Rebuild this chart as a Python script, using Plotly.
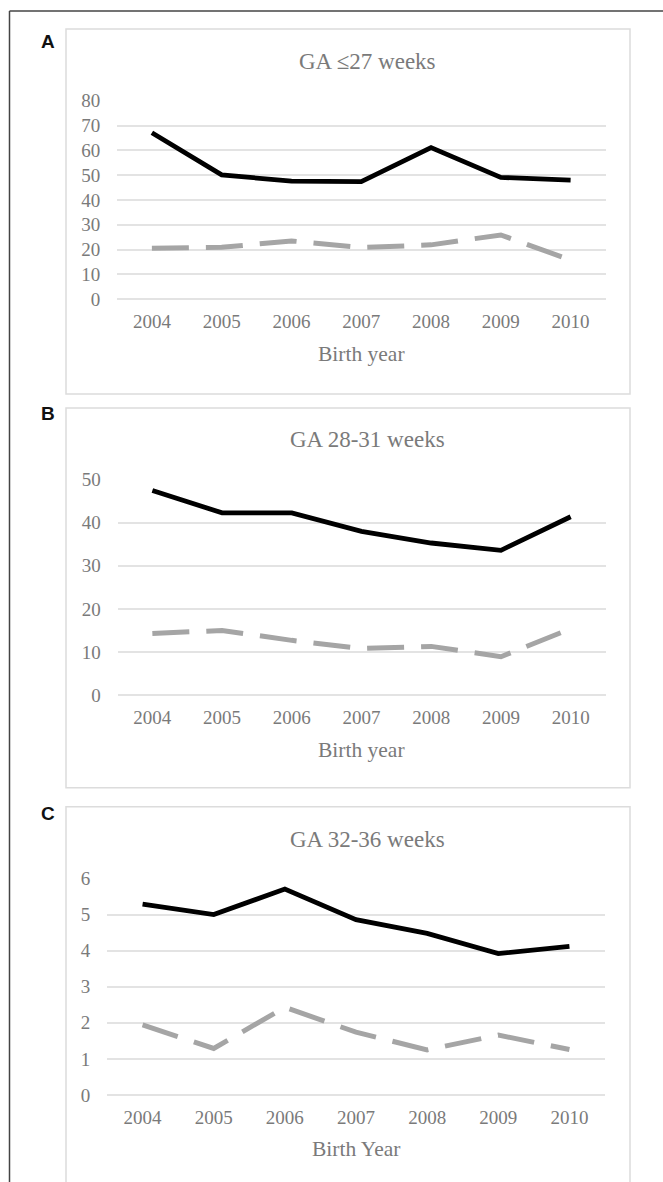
import plotly.graph_objects as go

W, H = 663, 1182

years = ["2004", "2005", "2006", "2007", "2008", "2009", "2010"]

titles = ["GA \u226427 weeks", "GA 28-31 weeks", "GA 32-36 weeks"]
xtitles = ["Birth year", "Birth year", "Birth Year"]
labels = ["A", "B", "C"]

a_solid = [67.1, 50.1, 47.6, 47.4, 61.1, 49.1, 48.0]
a_dashed = [20.5, 20.9, 23.5, 20.8, 21.9, 25.9, 15.8]
b_solid = [47.5, 42.3, 42.3, 38.0, 35.3, 33.6, 41.4]
b_dashed = [14.3, 15.0, 12.7, 10.8, 11.3, 8.9, 15.4]
c_solid = [5.29, 5.00, 5.71, 4.86, 4.48, 3.92, 4.12]
c_dashed = [1.94, 1.29, 2.43, 1.74, 1.25, 1.66, 1.26]

solid_series = [a_solid, b_solid, c_solid]
dashed_series = [a_dashed, b_dashed, c_dashed]
y_ranges = [[0, 80], [0, 50], [0, 6]]
y_dticks = [10, 10, 1]

# layout geometry in pixels (x0, x1, ytop, ybottom)
plot_px = [(117, 605.5, 99, 298), (117.5, 605.5, 479, 695), (107, 605, 879, 1096)]
box_px = [(66, 630, 27, 393), (66, 630, 407, 788), (66, 630, 807, 1200)]
title_y = [60, 439, 840]
xtitle_y = [353, 750, 1150]
label_y = [40, 413, 814]

def px(x):
    return x / W

def py(y):
    yc = (y - 8) / 0.985
    return 1 - yc / H

GREY_TXT = "#7a7a7a"
GRID = "#e3e3e3"
FONT = "Liberation Serif"

fig = go.Figure()
shapes = []
annotations = []

for i in range(3):
    ax = "" if i == 0 else str(i + 1)
    xa, ya = "x" + ax, "y" + ax
    fig.add_trace(go.Scatter(x=years, y=dashed_series[i], mode="lines",
                             line=dict(color="#a5a5a5", width=5, dash="37px,17px"),
                             xaxis=xa, yaxis=ya, showlegend=False, hoverinfo="skip"))
    fig.add_trace(go.Scatter(x=years, y=solid_series[i], mode="lines",
                             line=dict(color="#000000", width=4.8),
                             xaxis=xa, yaxis=ya, showlegend=False, hoverinfo="skip"))
    x0, x1, yt, yb = plot_px[i]
    fig.update_layout(**{
        "xaxis" + ax: dict(domain=[px(x0), px(x1)], anchor=ya, type="category",
                           range=[-0.5, 6.5], showgrid=False, zeroline=False,
                           showline=False, ticks="outside", ticklen=5,
                           tickcolor="rgba(0,0,0,0)",
                           tickfont=dict(family=FONT, size=19, color=GREY_TXT),
                           fixedrange=True),
        "yaxis" + ax: dict(domain=[py(yb), py(yt)], anchor=xa, range=y_ranges[i],
                           dtick=y_dticks[i], tick0=0, showgrid=True, gridcolor=GRID,
                           gridwidth=1.5, zeroline=True, zerolinecolor=GRID,
                           zerolinewidth=1.5, showline=False, ticks="outside",
                           ticklen=12, tickcolor="rgba(0,0,0,0)",
                           tickfont=dict(family=FONT, size=19, color=GREY_TXT),
                           fixedrange=True),
    })
    bx0, bx1, byt, byb = box_px[i]
    shapes.append(dict(type="rect", xref="paper", yref="paper",
                       x0=px(bx0), x1=px(bx1), y0=py(byb), y1=py(byt),
                       line=dict(color="#dcdcdc", width=1.5), layer="below"))
    annotations.append(dict(text=titles[i], xref="paper", yref="paper",
                            x=px(367), y=py(title_y[i]), showarrow=False,
                            xanchor="center", yanchor="middle",
                            font=dict(family=FONT, size=23, color=GREY_TXT)))
    annotations.append(dict(text=xtitles[i], xref="paper", yref="paper",
                            x=px((x0 + x1) / 2), y=py(xtitle_y[i]), showarrow=False,
                            xanchor="center", yanchor="middle",
                            font=dict(family=FONT, size=21.5, color=GREY_TXT)))
    annotations.append(dict(text="<b>" + labels[i] + "</b>", xref="paper", yref="paper",
                            x=px(48), y=py(label_y[i]), showarrow=False,
                            xanchor="center", yanchor="middle",
                            font=dict(family="Liberation Sans", size=19, color="#111111")))

# outer frame (top and left)
shapes.append(dict(type="line", xref="paper", yref="paper", x0=px(9.5), x1=1.0,
                   y0=py(9), y1=py(9), line=dict(color="#444444", width=1.5)))
shapes.append(dict(type="line", xref="paper", yref="paper", x0=px(9.5), x1=px(9.5),
                   y0=py(9), y1=-0.01, line=dict(color="#444444", width=1.5)))

fig.update_layout(width=W, height=H, margin=dict(l=0, r=0, t=0, b=0),
                  paper_bgcolor="white", plot_bgcolor="white",
                  shapes=shapes, annotations=annotations, showlegend=False)

fig.write_html("out.html", config={"displayModeBar": False},
               post_script="document.body.style.margin='0px';document.body.style.overflow='hidden';")
